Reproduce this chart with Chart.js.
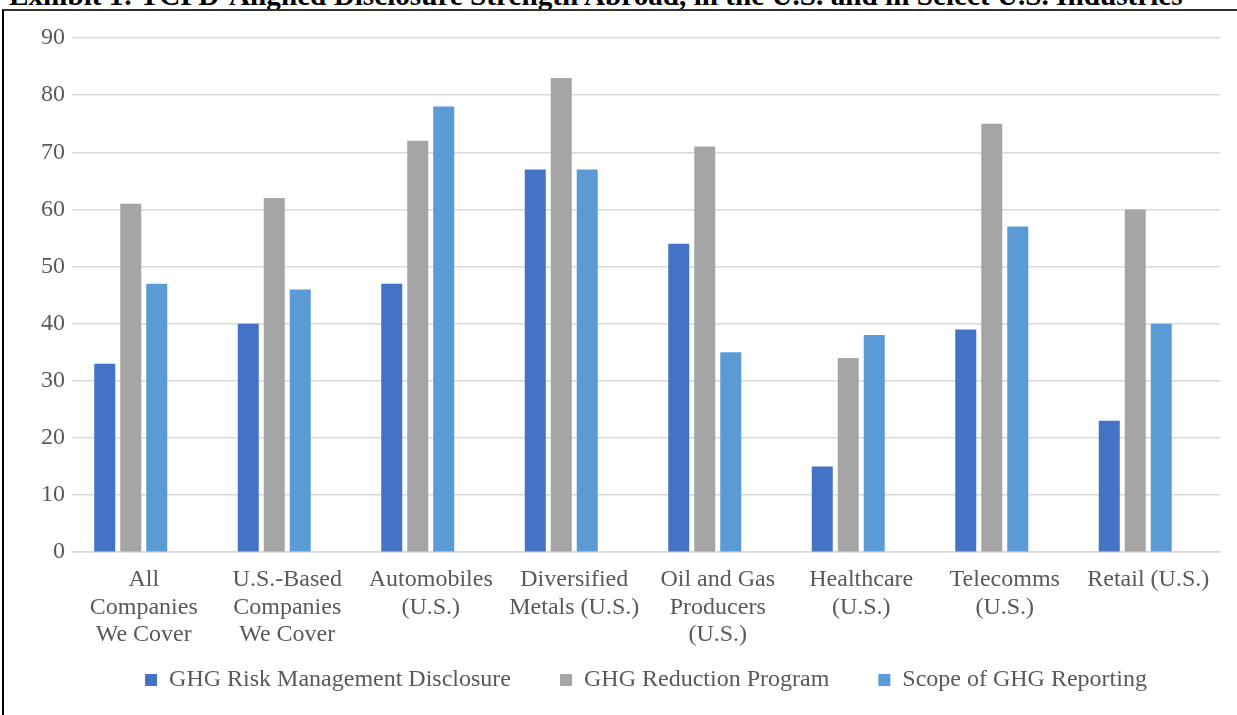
<!DOCTYPE html>
<html>
<head>
<meta charset="utf-8">
<script src="https://cdn.jsdelivr.net/npm/chart.js@4/dist/chart.umd.min.js"></script>
<style>
  html, body { margin: 0; padding: 0; background: #fff; width: 1237px; height: 715px; overflow: hidden; }
  #title { position: absolute; left: 9px; top: -19px; font: bold 29.2px "Liberation Serif", "Times New Roman", serif; color: #000; white-space: nowrap; line-height: 29px; }
  #frame { position: absolute; left: 2px; top: 9px; width: 1300px; height: 800px; border-left: 2px solid #000; border-top: 2px solid #333; }
  #wrap { position: absolute; left: 0; top: 0; width: 1237px; height: 715px; }
</style>
</head>
<body>
<div id="title">Exhibit 1: TCFD-Aligned Disclosure Strength Abroad, in the U.S. and in Select U.S. Industries</div>
<div id="frame"></div>
<div id="wrap"><canvas id="c" width="1237" height="715"></canvas></div>
<script>
const categories = [
  ["All", "Companies", "We Cover"],
  ["U.S.-Based", "Companies", "We Cover"],
  ["Automobiles", "(U.S.)"],
  ["Diversified", "Metals (U.S.)"],
  ["Oil and Gas", "Producers", "(U.S.)"],
  ["Healthcare", "(U.S.)"],
  ["Telecomms", "(U.S.)"],
  ["Retail (U.S.)"]
];
const seriesNames = ["GHG Risk Management Disclosure", "GHG Reduction Program", "Scope of GHG Reporting"];
const riskMgmt = [33, 40, 47, 67, 54, 15, 39, 23];
const reductionProgram = [61, 62, 72, 83, 71, 34, 75, 60];
const scopeReporting = [47, 46, 78, 67, 35, 38, 57, 40];
const emptySeries = [null, null, null, null, null, null, null, null];
const seriesColors = ["#4472C4", "#A5A5A5", "#5B9BD5"];
const yTicks = { min: 0, max: 90, step: 10 };

const font = "'Liberation Serif', 'Times New Roman', serif";
const textColor = "#595959";
const legendGap = "      ";

new Chart(document.getElementById('c'), {
  type: 'bar',
  data: {
    labels: categories,
    datasets: [
      { label: seriesNames[0], data: riskMgmt, backgroundColor: seriesColors[0] },
      { label: seriesNames[1], data: reductionProgram, backgroundColor: seriesColors[1] },
      { label: seriesNames[2], data: scopeReporting, backgroundColor: seriesColors[2] },
      { label: '', data: emptySeries, backgroundColor: 'rgba(0,0,0,0)' }
    ]
  },
  options: {
    responsive: false,
    animation: false,
    devicePixelRatio: 1,
    datasets: { bar: { categoryPercentage: 0.7247, barPercentage: 0.808 } },
    layout: { padding: { left: 30, right: 17, top: 38, bottom: 13 } },
    scales: {
      x: {
        grid: { display: false },
        border: { display: true, color: '#D9D9D9', width: 1.5 },
        ticks: {
          color: textColor, font: { family: font, size: 24, lineHeight: 1.15 },
          maxRotation: 0, minRotation: 0, autoSkip: false, padding: 6
        }
      },
      y: {
        min: yTicks.min, max: yTicks.max,
        afterFit: (s) => { s.width = 42; },
        grid: { color: '#D9D9D9', lineWidth: 1.5, drawTicks: false },
        border: { display: false },
        ticks: {
          stepSize: yTicks.step, color: textColor, font: { family: font, size: 24 }, padding: 7
        }
      }
    },
    plugins: {
      tooltip: { enabled: false },
      legend: {
        position: 'bottom',
        fullSize: false,
        labels: {
          color: textColor, font: { family: font, size: 24 },
          boxWidth: 12, boxHeight: 12, padding: 13,
          filter: (item) => item.text.trim() !== '',
          generateLabels: (chart) => {
            const items = Chart.defaults.plugins.legend.labels.generateLabels(chart);
            return items.map((it, i) => {
              if (i < 2) it.text = it.text + legendGap;
              it.lineWidth = 0;
              return it;
            });
          }
        }
      }
    }
  }
});
</script>
</body>
</html>
